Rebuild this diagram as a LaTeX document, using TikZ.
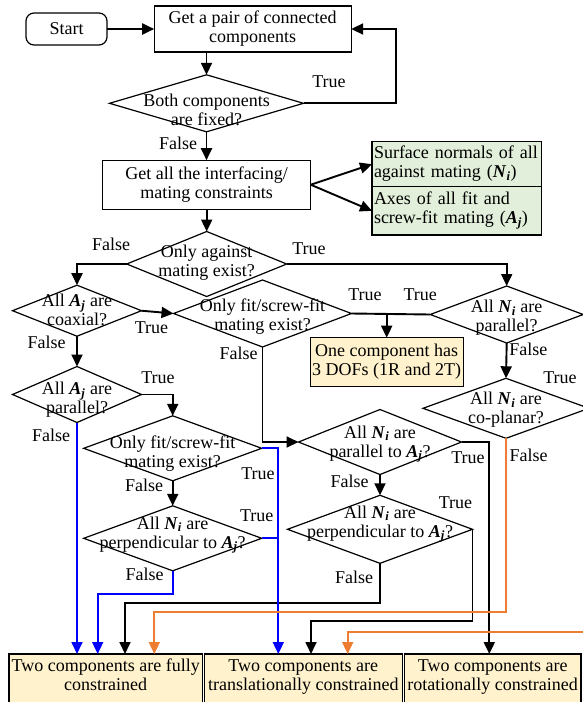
\documentclass[tikz,border=0pt]{standalone}
\usepackage{fontspec}
\setmainfont{Liberation Serif}
\usetikzlibrary{arrows.meta,shapes.geometric}
\definecolor{flowblue}{RGB}{0,0,255}
\definecolor{floworange}{RGB}{237,125,49}
\definecolor{resfill}{RGB}{255,242,204}
\definecolor{infofill}{RGB}{226,239,218}
\newcommand\vN{\textbf{\textit{N}}\textsubscript{\textbf{\textit{i}}}}
\newcommand\vA{\textbf{\textit{A}}\textsubscript{\textbf{\textit{j}}}}
\newcommand\lowstrut{\rule[-5pt]{0pt}{5pt}}
\newcommand\deepstrut{\rule[-8pt]{0pt}{8pt}}

\begin{document}
\begin{tikzpicture}[x=1pt,y=-1pt,
  font=\fontsize{18}{19}\selectfont,
  box/.style={draw,rectangle,line width=1.2pt,inner sep=0pt,outer sep=0pt,align=center},
  dia/.style={draw,diamond,line width=1.2pt,inner sep=0pt,outer sep=0pt},
  dtext/.style={align=center,inner sep=0pt},
  lbl/.style={inner sep=0pt},
  resbox/.style={box,fill=resfill,line width=1.6pt,minimum height=50pt,anchor=north},
  info/.style={box,fill=infofill,align=left,text width=165.7pt,inner xsep=2pt},
  conn/.style={line width=1.9pt},
  cline/.style={line width=1.7pt},
  tip/.style={-{Triangle[length=12pt,width=11pt]}},
]
\useasboundingbox (0,0) rectangle (583,702);
\fill[white] (0,0) rectangle (583,702);

% ---- boxes ----
\node[box,rounded corners=8pt,minimum width=81pt,minimum height=32pt] (start) at (66.5,29) {Start};
\node[box,minimum width=197pt,minimum height=46pt] (get) at (252.7,29) {Get a pair of connected\\components\lowstrut};
\node[box,minimum width=208pt,minimum height=49pt] (mates) at (206.7,184.7) {Get all the interfacing/\\mating constraints\lowstrut};
\node[info,minimum height=45pt] (nrm) at (456.85,164.2) {Surface normals of all\\against mating (\vN)\lowstrut};
\node[info,minimum height=48.3pt] (axs) at (456.85,210.85) {Axes of all fit and\\screw-fit mating (\vA)\lowstrut};
\node[box,fill=resfill,minimum width=153pt,minimum height=49pt] (dof) at (386.7,362.2) {One component has\\3 DOFs (1R and 2T)\lowstrut};

\node[resbox,minimum width=193.3pt] (bF) at (105.65,654) {Two components are fully\\constrained\deepstrut};
\node[resbox,minimum width=198pt] (bT) at (303.3,654) {Two components are\\translationally constrained\deepstrut};
\node[resbox,minimum width=176.7pt] (bR) at (492.65,654) {Two components are\\rotationally constrained\deepstrut};

% ---- decisions ----
\node[dia,minimum width=194pt,minimum height=57pt] (fixed) at (206.5,103.3) {};
\node[dtext] (fixedT) at (206.5,112.5) {Both components\\are fixed?\lowstrut};
\node[dia,minimum width=160pt,minimum height=65pt] (against) at (206.7,264) {};
\node[dtext] (againstT) at (206.7,263) {Only against\\mating exist?\lowstrut};
\node[dia,minimum width=129pt,minimum height=51pt] (coax) at (77,310.7) {};
\node[dtext] (coaxT) at (77,312.5) {All \vA{} are\\coaxial?\lowstrut};
\node[dia,minimum width=178pt,minimum height=67pt] (onlyfit) at (262.5,313.5) {};
\node[dtext] (onlyfitT) at (262.5,317.5) {Only fit/screw-fit\\mating exist?\lowstrut};
\node[dia,minimum width=129pt,minimum height=56pt] (apar) at (77,394.5) {};
\node[dtext] (aparT) at (77,400) {All \vA{} are\\parallel?\lowstrut};
\node[dia,minimum width=153pt,minimum height=57pt] (npar) at (506.7,314.5) {};
\node[dtext] (nparT) at (506.7,318.5) {All \vN{} are\\parallel?\lowstrut};
\node[dia,minimum width=166pt,minimum height=60pt] (copl) at (506,408.3) {};
\node[dtext] (coplT) at (506,410) {All \vN{} are\\co-planar?\lowstrut};
\node[dia,minimum width=163pt,minimum height=65pt] (npa) at (380,442) {};
\node[dtext] (npaT) at (380,444) {All \vN{} are\\parallel to \vA?\lowstrut};
\node[dia,minimum width=185pt,minimum height=68pt] (nperpR) at (380,529.3) {};
\node[dtext] (nperpRT) at (380,524) {All \vN{} are\\perpendicular to \vA?\lowstrut};
\node[dia,minimum width=178pt,minimum height=65pt] (onlyfitL) at (172.7,448.3) {};
\node[dtext] (onlyfitLT) at (172.7,454) {Only fit/screw-fit\\mating exist?\lowstrut};
\node[dia,minimum width=178pt,minimum height=65pt] (nperpL) at (172.7,538.3) {};
\node[dtext] (nperpLT) at (172.7,535) {All \vN{} are\\perpendicular to \vA?\lowstrut};

% ---- branch labels ----
\node[lbl] (l1) at (329,82) {True};
\node[lbl] (l2) at (178,143) {False};
\node[lbl] (l3) at (111,244) {False};
\node[lbl] (l4) at (309,249) {True};
\node[lbl] (l5) at (151.5,327.5) {True};
\node[lbl] (l6) at (46.7,342.5) {False};
\node[lbl] (l7) at (158,377.5) {True};
\node[lbl] (l8) at (51,435) {False};
\node[lbl] (l9) at (365,295) {True};
\node[lbl] (l10) at (420.3,295) {True};
\node[lbl] (l11) at (238.7,353) {False};
\node[lbl] (l12) at (528.3,349) {False};
\node[lbl] (l13) at (560,377.5) {True};
\node[lbl] (l14) at (528.7,455.5) {False};
\node[lbl] (l15) at (468,458) {True};
\node[lbl] (l16) at (349.5,481.7) {False};
\node[lbl] (l17) at (455.5,502.5) {True};
\node[lbl] (l18) at (354,577.5) {False};
\node[lbl] (l19) at (258,474) {True};
\node[lbl] (l20) at (144,485.5) {False};
\node[lbl] (l21) at (256.7,516) {True};
\node[lbl] (l22) at (144.7,574) {False};

% ---- helper points ----
\coordinate (loop) at (395.7,29);
\coordinate (rotx) at (489.3,0);
\coordinate (tjoin) at (311,620.7);
\coordinate (fjoin) at (125,603.3);
\coordinate (bjoin) at (97.7,594.3);
\coordinate (tbx) at (278.3,0);
\coordinate (ojoin) at (154.3,611.7);
\coordinate (oedge) at (590,632.3);
\coordinate (otj) at (347.7,632.3);

% ---- black connectors ----
\draw[conn,tip] (start.east) -- (get.west);
\draw[conn,tip] (get.south -| fixed.north) -- (fixed.north);
\draw[conn,tip] (fixed.east) -| (loop) -- (get.east);
\draw[conn,tip] (fixed.south) -- (fixed.south |- mates.north);
\draw[conn,tip] (mates.east) -- (nrm.west);
\draw[conn,tip] (mates.east) -- (axs.west);
\draw[conn,tip] (mates.south) -- (against.north);
\draw[conn,tip] (against.west) -| (coax.north);
\draw[conn,tip] (against.east) -| (npar.north);
\draw[conn,tip] (coax.east) -- (onlyfit.west);
\draw[conn,tip] (coax.south) -- (apar.north);
\draw[conn] (onlyfit.east) -- (npar.west);
\draw[conn,tip] (onlyfit.east -| dof.north) -- (dof.north);
\draw[conn,tip] (onlyfit.south) |- (npa.west);
\draw[conn,tip] (npar.south) -- (copl.north);
\draw[conn,tip] (apar.east) -| (onlyfitL.north);
\draw[conn,tip] (onlyfitL.south) -- (nperpL.north);
\draw[conn,tip] (npa.south) -- (nperpR.north);
\draw[conn,tip] (npa.east) -| (bR.north -| rotx);
\draw[cline,tip] (nperpR.east) |- (tjoin) -- (tjoin |- bT.north);
\draw[cline,tip] (nperpR.south) |- (fjoin) -- (fjoin |- bF.north);

% ---- blue connectors ----
\draw[cline,flowblue,tip] (apar.south) -- (apar.south |- bF.north);
\draw[cline,flowblue,tip] (nperpL.south) |- (bjoin) -- (bjoin |- bF.north);
\draw[cline,flowblue,tip] (onlyfitL.east) -| (tbx |- bT.north);
\draw[cline,flowblue] (nperpL.east) -- (nperpL.east -| tbx);

% ---- orange connectors ----
\draw[cline,floworange,tip] (copl.south) |- (ojoin) -- (ojoin |- bF.north);
\draw[cline,floworange,tip] (oedge) -- (otj) -- (otj |- bT.north);
\end{tikzpicture}
\end{document}
